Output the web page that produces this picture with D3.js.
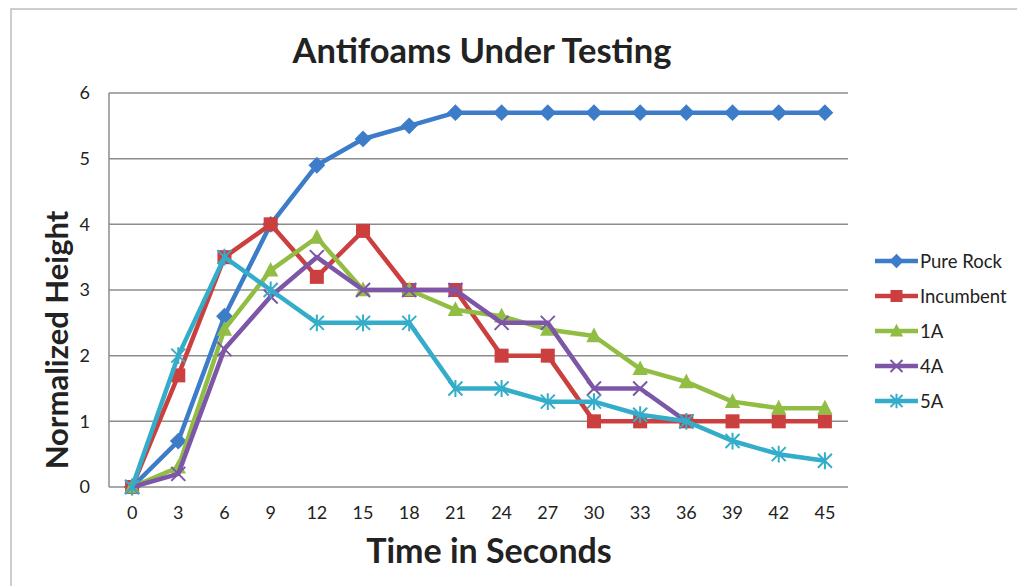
<!DOCTYPE html>
<html>
<head>
<meta charset="utf-8">
<script src="https://cdn.jsdelivr.net/npm/d3@7"></script>
<style>
  body { margin: 0; background: #fff; }
  svg { font-family: Lato, "Open Sans", sans-serif; }
</style>
</head>
<body>
<svg id="chart" width="1017" height="586"></svg>
<script>
const times = [0, 3, 6, 9, 12, 15, 18, 21, 24, 27, 30, 33, 36, 39, 42, 45];
const yTicks = [0, 1, 2, 3, 4, 5, 6];

const pureRock = [0, 0.7, 2.6, 4.0, 4.9, 5.3, 5.5, 5.7, 5.7, 5.7, 5.7, 5.7, 5.7, 5.7, 5.7, 5.7];
const incumbent = [0, 1.7, 3.5, 4.0, 3.2, 3.9, 3.0, 3.0, 2.0, 2.0, 1.0, 1.0, 1.0, 1.0, 1.0, 1.0];
const oneA = [0, 0.3, 2.4, 3.3, 3.8, 3.0, 3.0, 2.7, 2.6, 2.4, 2.3, 1.8, 1.6, 1.3, 1.2, 1.2];
const fourA = [0, 0.2, 2.1, 2.9, 3.5, 3.0, 3.0, 3.0, 2.5, 2.5, 1.5, 1.5, 1.0, null, null, null];
const fiveA = [0, 2.0, 3.5, 3.0, 2.5, 2.5, 2.5, 1.5, 1.5, 1.3, 1.3, 1.1, 1.0, 0.7, 0.5, 0.4];

const series = [
  { name: "Pure Rock", values: pureRock, color: "#3d7cc9", marker: "diamond" },
  { name: "Incumbent", values: incumbent, color: "#cc3f3f", marker: "square" },
  { name: "1A", values: oneA, color: "#92bd45", marker: "triangle" },
  { name: "4A", values: fourA, color: "#7d56a8", marker: "x" },
  { name: "5A", values: fiveA, color: "#33adc9", marker: "star" }
];

const svg = d3.select("#chart");
const plot = { left: 109, right: 848, top: 93, bottom: 487 };

// outer chart border
svg.append("rect")
  .attr("x", 11).attr("y", 9)
  .attr("width", 1017).attr("height", 600)
  .attr("fill", "none").attr("stroke", "#bdbdbd").attr("stroke-width", 1.5);

const x = d3.scaleBand().domain(times).range([plot.left, plot.right]);
const y = d3.scaleLinear().domain([0, 6]).range([plot.bottom, plot.top]);

// gridlines
svg.append("g")
  .selectAll("line")
  .data(yTicks)
  .join("line")
  .attr("x1", plot.left).attr("x2", plot.right)
  .attr("y1", (d) => y(d)).attr("y2", (d) => y(d))
  .attr("stroke", "#8c8c8c").attr("stroke-width", 1.5);

svg.append("line")
  .attr("x1", plot.left).attr("x2", plot.left)
  .attr("y1", plot.top).attr("y2", plot.bottom)
  .attr("stroke", "#8c8c8c").attr("stroke-width", 1.5);

const yAxis = d3.axisLeft(y).tickValues(yTicks).tickSize(0).tickPadding(19).tickFormat(d3.format("d"));
const yg = svg.append("g").attr("transform", `translate(${plot.left},0)`).call(yAxis)
  .attr("font-family", null).attr("font-size", 18);
yg.select(".domain").remove();
yg.selectAll("text").attr("fill", "#222");

const xAxis = d3.axisBottom(x).tickSize(0).tickPadding(19);
const xg = svg.append("g").attr("transform", `translate(0,${plot.bottom})`).call(xAxis)
  .attr("font-family", null).attr("font-size", 18);
xg.select(".domain").remove();
xg.selectAll("text").attr("fill", "#222");

// titles
svg.append("text")
  .attr("x", 482).attr("y", 63)
  .attr("text-anchor", "middle")
  .attr("font-size", 34.5).attr("font-weight", "bold").attr("fill", "#222")
  .text("Antifoams Under Testing");

svg.append("text")
  .attr("x", 489).attr("y", 563)
  .attr("text-anchor", "middle")
  .attr("font-size", 34).attr("font-weight", "bold").attr("fill", "#222")
  .text("Time in Seconds");

svg.append("text")
  .attr("transform", "translate(68,340) rotate(-90)")
  .attr("text-anchor", "middle")
  .attr("font-size", 31).attr("font-weight", "bold").attr("fill", "#222")
  .text("Normalized Height");

const cx = (i) => x(times[i]) + x.bandwidth() / 2;

function drawMarker(g, type, color, size) {
  const s = size;
  if (type === "diamond") {
    g.append("path").attr("d", `M0,${-s * 0.6}L${s * 0.6},0L0,${s * 0.6}L${-s * 0.6},0Z`).attr("fill", color);
  } else if (type === "square") {
    g.append("rect").attr("x", -s / 2).attr("y", -s / 2).attr("width", s).attr("height", s).attr("fill", color);
  } else if (type === "triangle") {
    g.append("path").attr("d", `M0,${-s * 0.6}L${s * 0.55},${s * 0.45}L${-s * 0.55},${s * 0.45}Z`).attr("fill", color);
  } else if (type === "x") {
    const h = s * 0.5;
    g.append("path").attr("d", `M${-h},${-h}L${h},${h}M${-h},${h}L${h},${-h}`)
      .attr("stroke", color).attr("stroke-width", 2).attr("fill", "none");
  } else if (type === "star") {
    const h = s * 0.5;
    g.append("path").attr("d", `M${-h},${-h}L${h},${h}M${-h},${h}L${h},${-h}M0,${-h * 1.2}L0,${h * 1.2}`)
      .attr("stroke", color).attr("stroke-width", 2).attr("fill", "none");
  }
}

const line = d3.line()
  .defined((d) => d !== null)
  .x((d, i) => cx(i))
  .y((d) => y(d));

series.forEach((s) => {
  const g = svg.append("g");
  g.append("path")
    .datum(s.values)
    .attr("d", line)
    .attr("fill", "none")
    .attr("stroke", s.color)
    .attr("stroke-width", 4.5)
    .attr("stroke-linejoin", "round");
  g.selectAll("g.pt")
    .data(s.values.map((v, i) => ({ v, i })).filter((d) => d.v !== null))
    .join("g")
    .attr("class", "pt")
    .attr("transform", (d) => `translate(${cx(d.i)},${y(d.v)})`)
    .each(function () {
      drawMarker(d3.select(this), s.marker, s.color, 14);
    });
});

// legend
const legend = svg.append("g").attr("transform", "translate(875,261)");
series.forEach((s, i) => {
  const row = legend.append("g").attr("transform", `translate(0,${i * 35})`);
  row.append("line").attr("x1", 0).attr("x2", 43).attr("y1", 0).attr("y2", 0)
    .attr("stroke", s.color).attr("stroke-width", 4.5);
  drawMarker(row.append("g").attr("transform", "translate(21.5,0)"), s.marker, s.color, 12);
  row.append("text").attr("x", 45).attr("y", 6.5)
    .attr("font-size", 18.5).attr("fill", "#222")
    .text(s.name);
});
</script>
</body>
</html>
